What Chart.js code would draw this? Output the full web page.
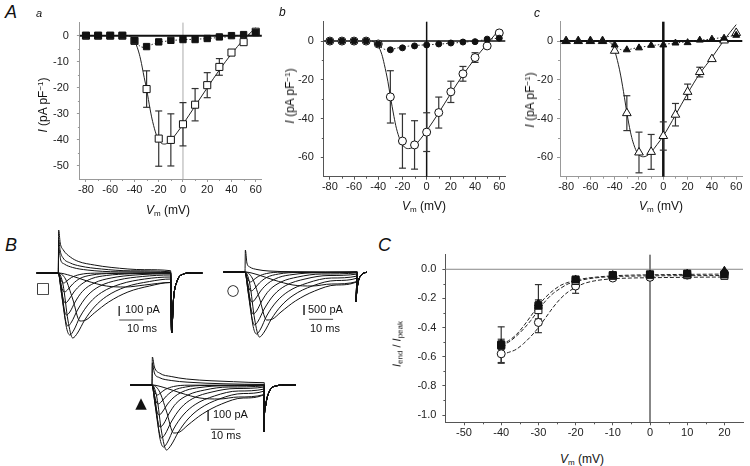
<!DOCTYPE html>
<html>
<head>
<meta charset="utf-8">
<script src="https://cdn.jsdelivr.net/npm/chart.js@4.4.1/dist/chart.umd.min.js"></script>
<style>
  body { margin: 0; width: 750px; height: 466px; position: relative; overflow: hidden; background: #fff;
         font-family: "Liberation Sans", Arial, sans-serif; color: #111; }
  canvas { position: absolute; }
  .t { position: absolute; white-space: nowrap; line-height: 1; font-size: 12px; }
  .panel { font-style: italic; font-size: 18px; }
  .sub { font-style: italic; font-size: 12px; }
  .ytitle { transform: translate(-50%, -50%) rotate(-90deg); }
  .xtitle { transform: translateX(-50%); }
  .bar { font-size: 11px; }
  .sym { transform: translate(-50%, -50%); font-size: 15px; font-family: "DejaVu Sans", sans-serif; }
  sub { font-size: 8px; vertical-align: -2px; }
  sup { font-size: 8px; vertical-align: 4px; }
</style>
</head>
<body>
<canvas id="ivA" width="245" height="200" style="left:25px;top:8px"></canvas>
<canvas id="ivB" width="225" height="200" style="left:290px;top:8px"></canvas>
<canvas id="ivC" width="225" height="200" style="left:525px;top:8px"></canvas>
<canvas id="trSq" width="180" height="128" style="left:30px;top:222px"></canvas>
<canvas id="trCi" width="152" height="128" style="left:215px;top:222px"></canvas>
<canvas id="trTr" width="175" height="130" style="left:125px;top:335px"></canvas>
<canvas id="ratio" width="350" height="210" style="left:400px;top:240px"></canvas>

<!-- panel letters -->
<div class="t panel" style="left:5px;top:3px">A</div>
<div class="t sub" style="left:36px;top:8px;font-size:11px">a</div>
<div class="t sub" style="left:279px;top:6px">b</div>
<div class="t sub" style="left:534px;top:7px">c</div>
<div class="t panel" style="left:5px;top:236px">B</div>
<div class="t panel" style="left:378px;top:236px">C</div>

<!-- axis titles -->
<div class="t ytitle" style="left:43px;top:105px"><i>I</i> (pA pF<sup>−1</sup>)</div>
<div class="t ytitle" style="left:290px;top:96px"><i>I</i> (pA pF<sup>−1</sup>)</div>
<div class="t ytitle" style="left:530px;top:100px"><i>I</i> (pA pF<sup>−1</sup>)</div>
<div class="t ytitle" style="left:398px;top:344px;font-size:11px"><i>I</i><sub>end</sub> / <i>I</i><sub>peak</sub></div>
<div class="t xtitle" style="left:168px;top:204px"><i>V</i><sub>m</sub> (mV)</div>
<div class="t xtitle" style="left:424px;top:200px"><i>V</i><sub>m</sub> (mV)</div>
<div class="t xtitle" style="left:661px;top:200px"><i>V</i><sub>m</sub> (mV)</div>
<div class="t xtitle" style="left:582px;top:453px"><i>V</i><sub>m</sub> (mV)</div>

<!-- trace symbols and scale bar labels -->
<div class="t sym" style="left:43px;top:288px">□</div>
<div class="t sym" style="left:233px;top:290px">○</div>
<div class="t sym" style="left:141px;top:403px">▲</div>
<div class="t bar" style="left:125px;top:304px">100 pA</div>
<div class="t bar" style="left:127px;top:323px">10 ms</div>
<div class="t bar" style="left:308px;top:304px">500 pA</div>
<div class="t bar" style="left:310px;top:323px">10 ms</div>
<div class="t bar" style="left:213px;top:409px">100 pA</div>
<div class="t bar" style="left:211px;top:430px">10 ms</div>

<script>
/* ── Data: current–voltage (A) ───────────────────────────────────────────── */
const ivV     = [-80, -70, -60, -50, -40, -30, -20, -10, 0, 10, 20, 30, 40, 50, 60];
const ivTicksX = [-80, -60, -40, -20, 0, 20, 40, 60];
const ivMinorX = [-70, -50, -30, -10, 10, 30, 50];

const aOpen    = [0, 0, 0, 0, -2, -20.5, -39.5, -40, -34, -26.5, -19, -12, -6.5, -2.5, 1.5];
const aOpenErr = [0, 0, 0, 0, 0.5, 7, 10.6, 10, 8.3, 6.2, 4.8, 3.2, 1.5, 1, 0.5];
const aFilled  = [0, 0, 0, 0, -1.9, -4.2, -2.4, -1.8, -1.5, -1.5, -1.1, -0.5, 0, 0.4, 1.2];
const aTicksY  = [0, -10, -20, -30, -40, -50];
const aMinorY  = [-5, -15, -25, -35, -45];

const fitV       = [-45, -42, -40, -37, -35, -32, -30, -27, -25, -22, -20, -17, -15, -12, -10, -5, 0, 10, 20, 30, 40, 50, 60];
const aFitOpen   = [0, -0.8, -2, -5.5, -9, -16, -20.5, -28.5, -33, -38, -40, -41.5, -41.6, -41, -40.2, -37.3, -34, -27, -20, -13.2, -7, -1.5, 3];
const aFitFilled = [0, -0.8, -1.8, -3.4, -4.2, -4.5, -4.3, -3.7, -3.3, -2.8, -2.6, -2.3, -2.2, -2, -1.9, -1.7, -1.55, -1.4, -1.1, -0.7, -0.3, 0.3, 0.9];

const bOpen      = [0, 0, 0, 0, -1.5, -28.8, -51.6, -53.6, -47, -36.9, -26.2, -16.9, -8.5, -2.5, 4.2];
const bOpenErr   = [0, 0, 0, 0, 0.5, 13.5, 14, 12.5, 10, 8, 5.5, 3.8, 2.5, 1, 0.5];
const bFilled    = [0, 0, 0, 0, -1.5, -4.5, -3.5, -2.5, -2, -1.5, -1, -0.5, -0.3, 1, 1.5];
const bFitOpen   = [0, -1, -2.5, -7, -12, -21, -28.5, -39, -45, -51, -53.5, -55.3, -55.5, -55, -54, -50.5, -46.3, -37, -27, -17.5, -9, -1.5, 6];
const bFitFilled = [0, -1, -2, -3.5, -4.2, -4.6, -4.5, -4, -3.7, -3.3, -3.1, -2.8, -2.6, -2.4, -2.3, -2.1, -1.9, -1.6, -1.1, -0.6, 0, 0.8, 1.6];

const cOpen      = [0, 0, 0, 0, -5, -37.2, -57.5, -57.2, -49, -38, -26.2, -16, -9.3, 0.3, 4.2];
const cOpenErr   = [0, 0, 0, 0, 1.5, 9, 10.5, 9, 7.3, 5.8, 4, 2.5, 1.5, 0.8, 0.5];
const cFilled    = [0, 0, 0, 0, -2, -4.5, -3.5, -2.2, -2, -1, -0.8, 0.5, 1, 1.5, 3];
const cFitOpen   = [0, -2, -5, -12, -18, -29, -37, -47, -52, -57, -58.7, -59.7, -59.6, -58.5, -57.3, -53.3, -49, -38.2, -27, -16.8, -8.5, 0.5, 8.5];
const cFitFilled = [0, -1, -2.3, -3.8, -4.4, -4.7, -4.6, -4.2, -3.9, -3.5, -3.3, -3, -2.8, -2.6, -2.4, -2, -1.7, -1, -0.3, 0.4, 1.1, 2, 3];

const bcTicksY = [0, -20, -40, -60];
const bcMinorY = [-10, -30, -50];

/* ── Data: current traces (B), [ms, current in scale-bar units (bar = 100)] ── */
const inward = [
  [[-9,0],[0,0],[5,-25],[12,-80],[20,-130],[28,-140],[36,-120],[46.8,-95]],
  [[-9,0],[0,0],[3,-60],[6,-260],[9,-480],[11.5,-470],[15,-400],[21,-290],[29,-190],[38,-130],[46.8,-95]],
  [[-9,0],[0,0],[2,-120],[4,-470],[6,-650],[8,-600],[11,-470],[15,-340],[20,-235],[28,-140],[38,-85],[46.8,-60]],
  [[-9,0],[0,0],[1.5,-180],[3.2,-520],[4.8,-620],[6.5,-570],[9,-440],[13,-300],[18,-195],[26,-110],[36,-60],[46.8,-40]],
  [[-9,0],[0,0],[1.3,-200],[2.8,-450],[4,-530],[5.5,-490],[8,-370],[12,-230],[17,-135],[25,-70],[35,-35],[46.8,-20]],
  [[-9,0],[0,0],[1.2,-180],[2.4,-360],[3.4,-420],[4.8,-390],[7,-290],[10,-185],[15,-100],[22,-50],[32,-20],[46.8,-8]],
  [[-9,0],[0,0],[1,-130],[2,-260],[3,-300],[4.3,-270],[6.5,-190],[9.5,-115],[14,-55],[20,-25],[30,-8],[46.8,0]],
  [[-9,0],[0,0],[0.9,-90],[1.8,-170],[2.6,-190],[3.8,-170],[6,-110],[9,-55],[14,-20],[22,-5],[46.8,0]],
  [[-9,0],[0,0],[0.8,-50],[1.6,-90],[2.3,-100],[3.5,-80],[5.5,-45],[9,-15],[15,-2],[46.8,0]]
];
const sqOutward = [
  [[-9,0],[0,0],[0.15,430],[0.8,300],[2,233],[5,160],[8.3,116],[15,80],[22,56],[36,33],[46.8,23]],
  [[-9,0],[0,0],[0.15,330],[0.8,220],[2,150],[5,100],[9,70],[18,40],[30,22],[46.8,12]],
  [[-9,0],[0,0],[0.15,250],[1,130],[2.5,90],[6,55],[12,30],[25,12],[46.8,5]]
];
const ciOutward = [
  [[-9,0],[0,0],[0.15,220],[0.8,90],[2,50],[5,25],[10,10],[20,3],[46.8,0]]
];
const trOutward = [
  [[-9,0],[0,0],[0.15,280],[1,180],[3.3,117],[8,85],[14.4,60],[25,42],[34,33],[46.8,23]],
  [[-9,0],[0,0],[0.15,220],[1,120],[3,75],[8,45],[15,28],[30,12],[46.8,6]]
];
const sqTail = [[47.2,-600],[48,-260],[49.5,-80],[52,-12],[55,0],[60,0]];
const ciTail = [[46.2,-300],[47,-120],[48.5,-30],[51,0]];
const trTail = [[46.6,-470],[47.4,-200],[49,-60],[52,-8],[55,0],[60,0]];
const sqBar = { t: [25.4, 35.4], i: [-330, -430], iH: -470 };
const ciBar = { t: [24.6, 26.7, 36.7], i: [-330, -430], iH: -473 };
const trBar = { t: [23.4, 24.5, 34.5], i: [-250, -360], iH: -443 };

/* ── Data: I_end / I_peak (C) ─────────────────────────────────────────────── */
const rV        = [-40, -30, -20, -10, 0, 10, 20];
const rFilledSq = [-0.52, -0.25, -0.07, -0.04, -0.035, -0.03, -0.035];
const rOpenSq   = [-0.52, -0.28, -0.08, -0.045, -0.04, -0.04, -0.045];
const rOpenCi   = [-0.58, -0.365, -0.115, -0.06, -0.055, -0.04, -0.03];
const rFilledTr = [-0.51, -0.235, -0.07, -0.04, -0.035, -0.03, -0.01];
const rErrSq    = [0.125, 0.04, 0.02, 0.01, 0.01, 0.01, 0.01];
const rErrOSq   = [0.03, 0.06, 0.02, 0.01, 0.01, 0.01, 0.01];
const rErrCi    = [0.06, 0.07, 0.05, 0.025, 0.01, 0.01, 0.01];
const rErrTr    = [0.03, 0.13, 0.02, 0.01, 0.01, 0.01, 0.01];
const rFitV     = [-40, -38, -36, -34, -32, -30, -28, -26, -24, -22, -20, -18, -15, -10, -5, 0, 10, 20];
const rFitTr    = [-0.515, -0.49, -0.45, -0.39, -0.32, -0.25, -0.19, -0.145, -0.11, -0.09, -0.075, -0.065, -0.055, -0.045, -0.04, -0.038, -0.035, -0.033];
const rFitSq    = [-0.52, -0.5, -0.46, -0.41, -0.35, -0.28, -0.215, -0.165, -0.13, -0.1, -0.085, -0.072, -0.06, -0.05, -0.047, -0.045, -0.044, -0.043];
const rFitCi    = [-0.585, -0.57, -0.55, -0.51, -0.46, -0.4, -0.33, -0.26, -0.2, -0.155, -0.125, -0.1, -0.08, -0.065, -0.06, -0.058, -0.055, -0.053];
const rTicksX   = [-50, -40, -30, -20, -10, 0, 10, 20];
const rMinorX   = [-45, -35, -25, -15, -5, 5, 15];
const rTicksY   = [0, -0.2, -0.4, -0.6, -0.8, -1.0];
const rMinorY   = [-0.1, -0.3, -0.5, -0.7, -0.9];

/* ── Helpers ──────────────────────────────────────────────────────────────── */
const pts = (xs, ys) => xs.map((x, i) => ({ x, y: ys[i] }));
const pairs = arr => arr.map(p => ({ x: p[0], y: p[1] }));
const FONT = { family: '"Liberation Sans", Arial, sans-serif', size: 11 };

// zero lines, minor ticks and error bars
const extras = {
  id: 'extras',
  beforeDatasetsDraw(chart, args, o) {
    const { ctx, chartArea: a, scales: { x, y } } = chart;
    const line = (x1, y1, x2, y2) => { ctx.beginPath(); ctx.moveTo(x1, y1); ctx.lineTo(x2, y2); ctx.stroke(); };
    ctx.save();
    ctx.strokeStyle = o.axisColor; ctx.lineWidth = 1;
    (o.xMinor || []).forEach(v => { const px = Math.round(x.getPixelForValue(v)) + 0.5; line(px, a.bottom, px, a.bottom + 2); });
    (o.yMinor || []).forEach(v => { const py = Math.round(y.getPixelForValue(v)) + 0.5; line(a.left - 2, py, a.left, py); });
    if (o.vLine) {
      ctx.strokeStyle = o.vLine.color; ctx.lineWidth = o.vLine.width;
      const px = x.getPixelForValue(0); line(px, a.top, px, a.bottom);
    }
    if (o.hLine) {
      ctx.strokeStyle = o.hLine.color; ctx.lineWidth = o.hLine.width;
      const py = y.getPixelForValue(0); line(a.left, py, a.right, py);
    }
    ctx.strokeStyle = '#333'; ctx.lineWidth = 1.2;
    chart.data.datasets.forEach(d => {
      if (!d.errs) return;
      d.data.forEach((p, i) => {
        const e = d.errs[i];
        if (!e) return;
        const px = x.getPixelForValue(p.x), y1 = y.getPixelForValue(p.y + e), y2 = y.getPixelForValue(p.y - e);
        if (Math.abs(y2 - y1) < 8) return;
        line(px, y1, px, y2);
        line(px - 3.5, y1, px + 3.5, y1);
        line(px - 3.5, y2, px + 3.5, y2);
      });
    });
    ctx.restore();
  }
};

function axis(min, max, ticks, fixed, horizontal, color, pad, fmt) {
  return {
    type: 'linear', min, max,
    afterBuildTicks: s => { s.ticks = ticks.map(v => ({ value: v })); },
    afterFit: s => { if (horizontal) s.height = fixed; else s.width = fixed; },
    grid: { drawOnChartArea: false, drawTicks: true, tickLength: 3, color },
    border: { color, width: 1 },
    ticks: { font: FONT, color: '#222', padding: pad, maxRotation: 0, autoSkip: false, callback: fmt || (v => String(v)) }
  };
}

function pointSet(ys, errs, style, radius, filled) {
  return {
    data: null, ys, errs, showLine: false, pointStyle: style, pointRadius: radius,
    pointBackgroundColor: filled ? '#111' : '#fff', pointBorderColor: '#111', pointBorderWidth: 1
  };
}

function fitSet(xs, ys, dash) {
  return { data: pts(xs, ys), pointRadius: 0, borderColor: '#222', borderWidth: 1, borderDash: dash,
           cubicInterpolationMode: 'monotone', fill: false };
}

function ivChart(id, cfg) {
  const ds = cfg.points.map(p => Object.assign(p, { data: pts(cfg.v, p.ys) })).concat(cfg.fits);
  return new Chart(document.getElementById(id), {
    type: 'line',
    data: { datasets: ds },
    options: {
      responsive: false, animation: false, events: [],
      layout: { padding: { top: cfg.padTop, right: cfg.padRight, left: 0, bottom: 0 } },
      plugins: { legend: { display: false }, tooltip: { enabled: false }, extras: cfg.extras },
      scales: {
        x: axis(cfg.xMin, cfg.xMax, cfg.xTicks, cfg.xH, true, cfg.extras.axisColor, 1),
        y: axis(cfg.yMin, cfg.yMax, cfg.yTicks, cfg.yW, false, cfg.extras.axisColor, cfg.yPad, cfg.yFmt)
      }
    },
    plugins: [extras]
  });
}

function traceChart(id, cfg) {
  const ds = cfg.outward.concat(inward).map(tr => ({
    data: pairs(tr.concat(cfg.tail)), borderColor: '#111', borderWidth: 1, pointRadius: 0,
    cubicInterpolationMode: 'monotone', fill: false
  }));
  const b = cfg.bar;
  const tH = b.t.length === 2 ? [b.t[0], b.t[1]] : [b.t[1], b.t[2]];
  ds.push({ data: pts([b.t[0], b.t[0]], b.i), borderColor: '#444', borderWidth: 1, pointRadius: 0, tension: 0 });
  ds.push({ data: pts(tH, [b.iH, b.iH]), borderColor: '#444', borderWidth: 1, pointRadius: 0, tension: 0 });
  return new Chart(document.getElementById(id), {
    type: 'line',
    data: { datasets: ds },
    options: {
      responsive: false, animation: false, events: [],
      layout: { padding: 0 },
      plugins: { legend: { display: false }, tooltip: { enabled: false } },
      scales: {
        x: { type: 'linear', display: false, min: cfg.xMin, max: cfg.xMax },
        y: { type: 'linear', display: false, min: cfg.yMin, max: cfg.yMax }
      }
    }
  });
}

/* ── Panel A ─────────────────────────────────────────────────────────────── */
ivChart('ivA', {
  v: ivV, xMin: -85, xMax: 65, yMin: -55, yMax: 5, xTicks: ivTicksX, yTicks: aTicksY,
  padTop: 13.2, padRight: 8.2, xH: 29, yW: 54.9, yPad: 8,
  extras: { axisColor: '#999', xMinor: ivMinorX, yMinor: aMinorY,
            hLine: { color: '#111', width: 2 }, vLine: { color: '#aaa', width: 1 } },
  points: [pointSet(aFilled, null, 'rect', 4.5, true), pointSet(aOpen, aOpenErr, 'rect', 5, false)],
  fits: [fitSet(fitV, aFitOpen, []), fitSet(fitV, aFitFilled, [1.5, 2])]
});

ivChart('ivB', {
  v: ivV, xMin: -85, xMax: 65, yMin: -70, yMax: 10, xTicks: ivTicksX, yTicks: bcTicksY,
  padTop: 13.7, padRight: 9.7, xH: 31.3, yW: 33.8, yPad: 7,
  extras: { axisColor: '#555', xMinor: ivMinorX, yMinor: bcMinorY,
            hLine: { color: '#111', width: 1.5 }, vLine: { color: '#111', width: 1.5 } },
  points: [pointSet(bFilled, null, 'circle', 3, true), pointSet(bOpen, bOpenErr, 'circle', 4, false)],
  fits: [fitSet(fitV, bFitOpen, []), fitSet(fitV, bFitFilled, [1.5, 2])]
});

ivChart('ivC', {
  v: ivV, xMin: -85, xMax: 65, yMin: -70, yMax: 10, xTicks: ivTicksX, yTicks: bcTicksY,
  padTop: 13.7, padRight: 7.7, xH: 31.3, yW: 35, yPad: 4,
  extras: { axisColor: '#999', xMinor: ivMinorX, yMinor: bcMinorY,
            hLine: { color: '#111', width: 2 }, vLine: { color: '#111', width: 2.5 } },
  points: [pointSet(cFilled, null, 'triangle', 4, true), pointSet(cOpen, cOpenErr, 'triangle', 5, false)],
  fits: [fitSet(fitV, cFitOpen, []), fitSet(fitV, cFitFilled, [1.5, 2])]
});

/* ── Panel B ─────────────────────────────────────────────────────────────── */
traceChart('trSq', { outward: sqOutward, tail: sqTail, bar: sqBar, xMin: -11.79, xMax: 63.2, yMin: -770, yMax: 510 });
traceChart('trCi', { outward: ciOutward, tail: ciTail, bar: ciBar, xMin: -12.5, xMax: 50.83, yMin: -780, yMax: 500 });
traceChart('trTr', { outward: trOutward, tail: trTail, bar: trBar, xMin: -11.25, xMax: 61.67, yMin: -800, yMax: 500 });

/* ── Panel C ─────────────────────────────────────────────────────────────── */
ivChart('ratio', {
  v: rV, xMin: -55, xMax: 25, yMin: -1.05, yMax: 0.1, xTicks: rTicksX, yTicks: rTicksY,
  padTop: 14.7, padRight: 7, xH: 27.7, yW: 45.4, yPad: 6, yFmt: v => v.toFixed(1),
  extras: { axisColor: '#555', xMinor: rMinorX, yMinor: rMinorY,
            hLine: { color: '#888', width: 1 }, vLine: { color: '#111', width: 1 } },
  points: [
    pointSet(rFilledTr, rErrTr, 'triangle', 4.5, true),
    pointSet(rFilledSq, rErrSq, 'rect', 5, true),
    pointSet(rOpenSq, rErrOSq, 'rect', 5, false),
    pointSet(rOpenCi, rErrCi, 'circle', 4, false)
  ],
  fits: [fitSet(rFitV, rFitTr, [4, 2]), fitSet(rFitV, rFitSq, [4, 2]), fitSet(rFitV, rFitCi, [4, 2])]
});
</script>
</body>
</html>
